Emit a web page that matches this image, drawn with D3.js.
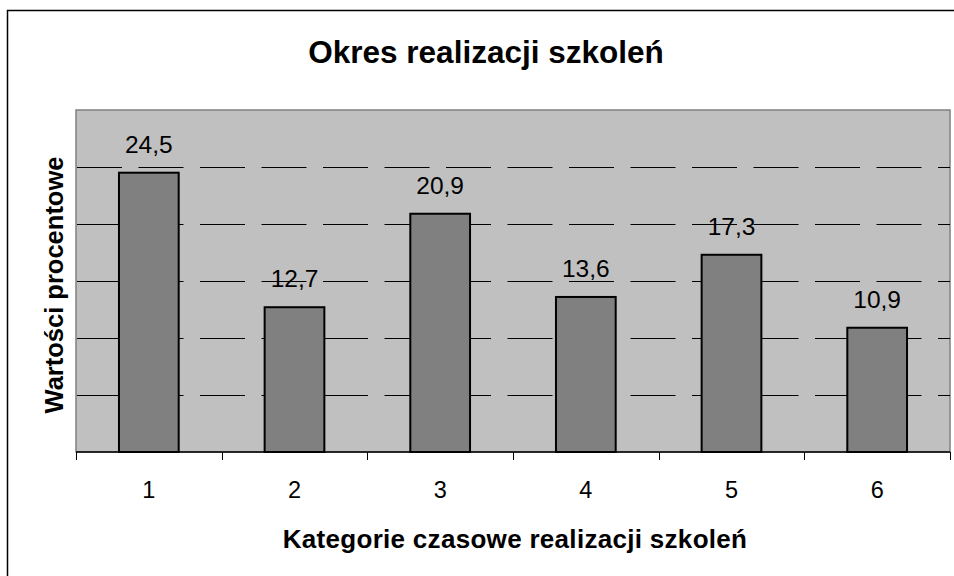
<!DOCTYPE html>
<html>
<head>
<meta charset="utf-8">
<script src="https://cdn.jsdelivr.net/npm/d3@7"></script>
<style>
  html, body { margin: 0; padding: 0; background: #fff; }
  svg { display: block; font-family: Arial, 'Liberation Sans', sans-serif; }
</style>
</head>
<body>
<div id="chart"></div>
<script>
const categories = ['1', '2', '3', '4', '5', '6'];
const values = [24.5, 12.7, 20.9, 13.6, 17.3, 10.9];
const gridTicks = [5, 10, 15, 20, 25, 30];

const title = 'Okres realizacji szkoleń';
const xTitle = 'Kategorie czasowe realizacji szkoleń';
const yTitle = 'Wartości procentowe';

const width = 954;
const height = 576;
const plot = { left: 76, right: 950, top: 110, bottom: 452 };

const svg = d3.select('#chart')
  .append('svg')
    .attr('width', width)
    .attr('height', height);

// outer chart frame (runs off the right / bottom edge)
svg.append('rect')
  .attr('x', 7.5)
  .attr('y', 10.5)
  .attr('width', 980)
  .attr('height', 600)
  .attr('fill', '#fff')
  .attr('stroke', '#000')
  .attr('stroke-width', 1.5);

const x = d3.scaleBand()
  .domain(categories)
  .range([plot.left, plot.right])
  .paddingInner(0.59)
  .paddingOuter(0.295);

const xStep = d3.scaleBand()
  .domain(categories)
  .range([plot.left, plot.right]);

const y = d3.scaleLinear()
  .domain([0, 30])
  .range([plot.bottom, plot.top]);

// plot background
svg.append('rect')
  .attr('x', plot.left)
  .attr('y', plot.top)
  .attr('width', plot.right - plot.left)
  .attr('height', plot.bottom - plot.top)
  .attr('fill', '#c0c0c0')
  .attr('stroke', '#808080')
  .attr('stroke-width', 1.5);

// dashed gridlines
svg.append('g')
  .selectAll('line')
  .data(gridTicks.slice(0, -1))
  .join('line')
    .attr('x1', plot.left + 1)
    .attr('x2', plot.right)
    .attr('y1', d => Math.round(y(d)) + 0.5)
    .attr('y2', d => Math.round(y(d)) + 0.5)
    .attr('stroke', '#000')
    .attr('stroke-width', 1)
    .attr('stroke-dasharray', '45,16.5');

// bars
svg.append('g')
  .selectAll('rect')
  .data(values)
  .join('rect')
    .attr('x', (d, i) => x(categories[i]))
    .attr('y', d => y(d))
    .attr('width', x.bandwidth())
    .attr('height', d => y(0) - y(d))
    .attr('fill', '#808080')
    .attr('stroke', '#000')
    .attr('stroke-width', 2);

// value labels
svg.append('g')
  .selectAll('text')
  .data(values)
  .join('text')
    .attr('x', (d, i) => x(categories[i]) + x.bandwidth() / 2)
    .attr('y', d => y(d) - 20)
    .attr('text-anchor', 'middle')
    .attr('font-size', '24.5px')
    .attr('fill', '#000')
    .text(d => d3.format('.1f')(d).replace('.', ','));

// x axis with ticks between categories
const xAxis = svg.append('g')
  .attr('transform', `translate(0, ${plot.bottom})`);

xAxis.append('line')
  .attr('x1', plot.left)
  .attr('x2', plot.right)
  .attr('stroke', '#000')
  .attr('stroke-width', 1.5);

xAxis.selectAll('line.tick')
  .data(categories.concat(['end']))
  .join('line')
    .attr('class', 'tick')
    .attr('x1', (d, i) => Math.round(plot.left + i * xStep.step()) + 0.5)
    .attr('x2', (d, i) => Math.round(plot.left + i * xStep.step()) + 0.5)
    .attr('y1', 0)
    .attr('y2', 8)
    .attr('stroke', '#000')
    .attr('stroke-width', 1);

xAxis.selectAll('text')
  .data(categories)
  .join('text')
    .attr('x', d => xStep(d) + xStep.bandwidth() / 2)
    .attr('y', 45.5)
    .attr('text-anchor', 'middle')
    .attr('font-size', '23.5px')
    .text(d => d);

// titles
svg.append('text')
  .attr('x', 486)
  .attr('y', 63)
  .attr('text-anchor', 'middle')
  .attr('font-size', '31.5px')
  .attr('font-weight', 'bold')
  .text(title);

svg.append('text')
  .attr('x', 515)
  .attr('y', 548)
  .attr('text-anchor', 'middle')
  .attr('font-size', '26px')
  .attr('font-weight', 'bold')
  .attr('letter-spacing', '0.3px')
  .text(xTitle);

svg.append('text')
  .attr('transform', `translate(63, 285) rotate(-90)`)
  .attr('text-anchor', 'middle')
  .attr('font-size', '25.5px')
  .attr('font-weight', 'bold')
  .text(yTitle);
</script>
</body>
</html>
